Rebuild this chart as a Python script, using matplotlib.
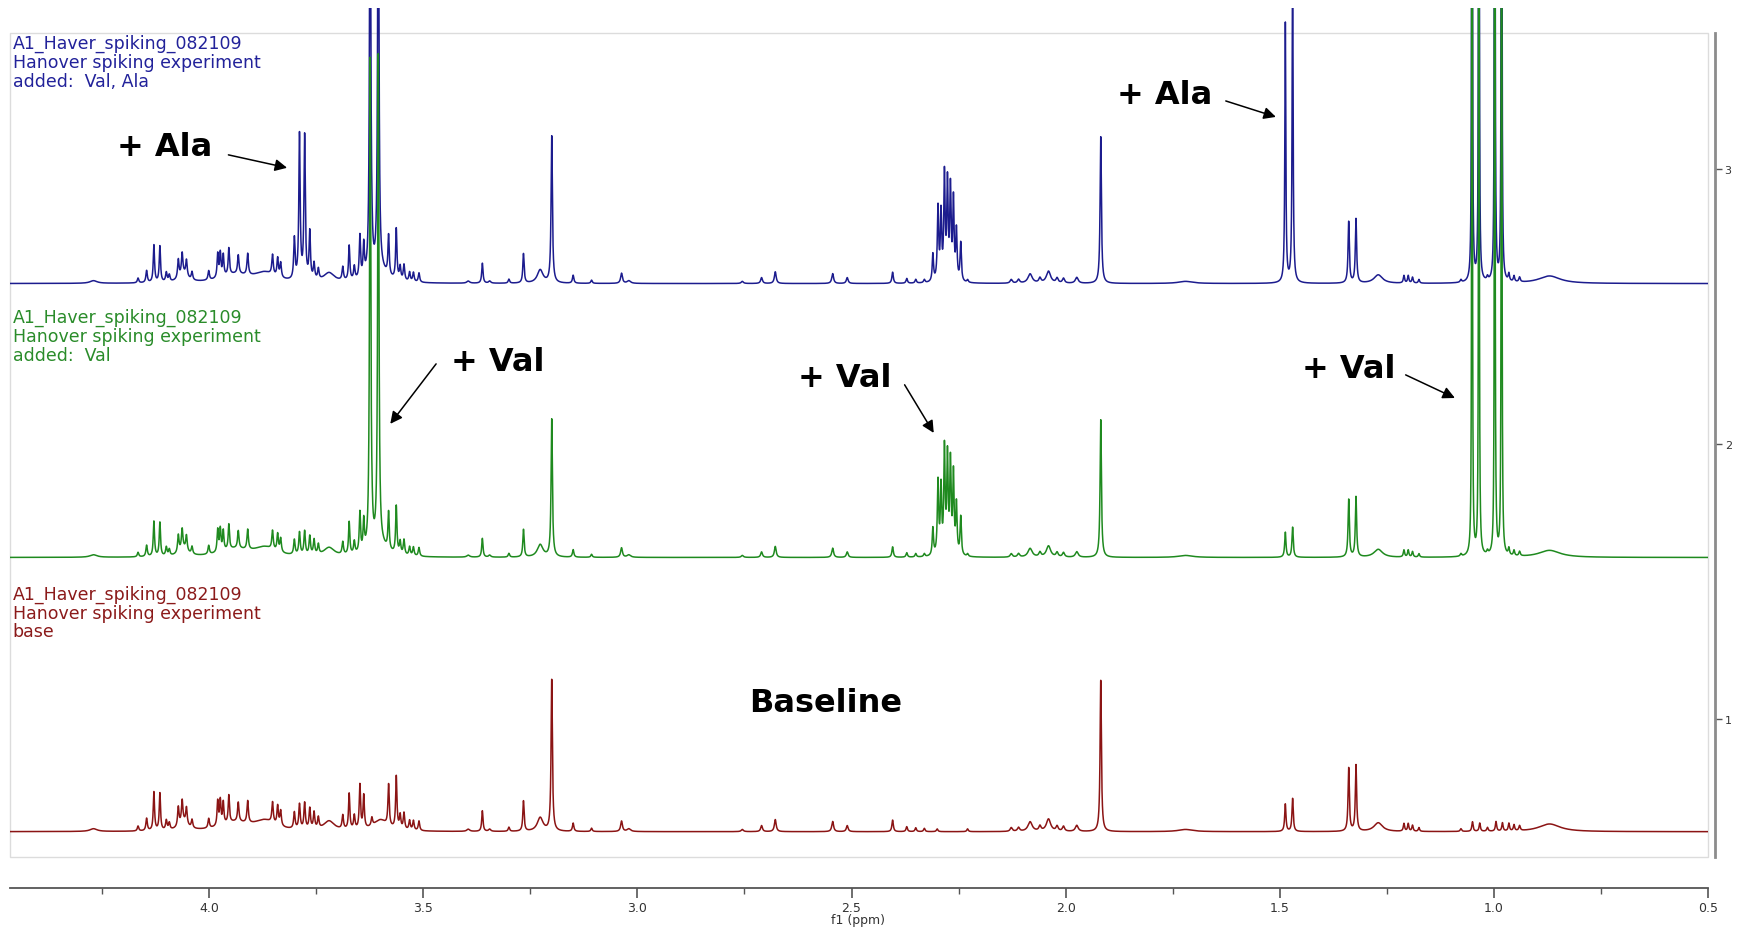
import numpy as np
import matplotlib
matplotlib.use('Agg')
import matplotlib.pyplot as plt
from matplotlib.patches import Rectangle

# Peak tables: centre (ppm), height (stack units), half width (ppm)
base_ppm = [4.270, 4.166, 4.146, 4.129, 4.115, 4.100, 4.093, 4.072, 4.063, 4.053, 4.040, 4.060,
            4.001, 3.980, 3.974, 3.967, 3.954, 3.932, 3.910, 3.940, 3.852, 3.840, 3.833, 3.870,
            3.801, 3.789, 3.777, 3.765, 3.755, 3.745, 3.720, 3.688, 3.673, 3.661, 3.648, 3.639,
            3.620, 3.581, 3.563, 3.554, 3.545, 3.532, 3.523, 3.510, 3.600, 3.395, 3.362, 3.345,
            3.300, 3.266, 3.227, 3.200, 3.150, 3.107, 3.037, 3.020, 2.755, 2.710, 2.678, 2.544,
            2.510, 2.404, 2.371, 2.350, 2.330, 2.300, 2.229, 2.127, 2.110, 2.083, 2.060, 2.040,
            2.020, 2.005, 1.974, 1.918, 1.720, 1.487, 1.470, 1.339, 1.322, 1.270, 1.210, 1.200,
            1.190, 1.175, 1.077, 1.050, 1.033, 1.015, 0.995, 0.980, 0.965, 0.953, 0.940, 0.870]
base_height = [0.010, 0.018, 0.045, 0.140, 0.135, 0.035, 0.025, 0.070, 0.080, 0.060, 0.030, 0.030,
               0.035, 0.090, 0.090, 0.080, 0.100, 0.070, 0.080, 0.030, 0.075, 0.070, 0.055, 0.035,
               0.060, 0.090, 0.095, 0.075, 0.060, 0.040, 0.035, 0.050, 0.130, 0.050, 0.160, 0.120,
               0.030, 0.150, 0.190, 0.050, 0.060, 0.035, 0.035, 0.035, 0.040, 0.008, 0.075, 0.008,
               0.015, 0.110, 0.050, 0.550, 0.030, 0.012, 0.038, 0.010, 0.008, 0.022, 0.044, 0.037,
               0.022, 0.042, 0.018, 0.014, 0.012, 0.010, 0.010, 0.014, 0.014, 0.035, 0.018, 0.045,
               0.018, 0.018, 0.022, 0.550, 0.008, 0.100, 0.120, 0.230, 0.240, 0.032, 0.028, 0.028,
               0.022, 0.014, 0.010, 0.035, 0.030, 0.014, 0.035, 0.030, 0.028, 0.022, 0.018, 0.028]
base_width = [0.010, 0.002, 0.002, 0.0018, 0.0018, 0.002, 0.002, 0.002, 0.002, 0.002, 0.002, 0.012,
              0.002, 0.0018, 0.0018, 0.0018, 0.0018, 0.002, 0.002, 0.040, 0.002, 0.002, 0.002, 0.030,
              0.002, 0.002, 0.002, 0.002, 0.002, 0.002, 0.015, 0.002, 0.0018, 0.002, 0.0018, 0.0018,
              0.002, 0.0018, 0.0018, 0.002, 0.002, 0.002, 0.002, 0.002, 0.020, 0.004, 0.0018, 0.003,
              0.002, 0.0018, 0.008, 0.0018, 0.002, 0.002, 0.0025, 0.005, 0.003, 0.0025, 0.0025, 0.0025,
              0.0025, 0.002, 0.002, 0.002, 0.002, 0.002, 0.002, 0.003, 0.003, 0.006, 0.003, 0.006,
              0.003, 0.003, 0.004, 0.0018, 0.020, 0.0018, 0.0018, 0.0018, 0.0018, 0.012, 0.0018, 0.0018,
              0.0018, 0.0018, 0.002, 0.0018, 0.0018, 0.002, 0.0018, 0.0018, 0.0018, 0.0018, 0.002, 0.030]

# spiked valine signals
val_ppm = [3.624, 3.605, 2.310, 2.298, 2.291, 2.283, 2.276, 2.269, 2.262, 2.255, 2.245,
           1.051, 1.035, 0.998, 0.982]
val_height = [1.78, 1.78, 0.10, 0.26, 0.24, 0.38, 0.35, 0.33, 0.29, 0.18, 0.14,
              6.0, 6.0, 6.0, 6.0]
val_width = [0.0017, 0.0017, 0.0018, 0.0018, 0.0018, 0.0018, 0.0018, 0.0018, 0.0018, 0.0018, 0.0018,
             0.0006, 0.0006, 0.0006, 0.0006]

# spiked alanine signals
ala_ppm = [3.801, 3.789, 3.777, 3.765, 1.487, 1.470]
ala_height = [0.09, 0.44, 0.43, 0.10, 0.85, 1.05]
ala_width = [0.0018, 0.0018, 0.0018, 0.0018, 0.0013, 0.0013]

spectrum_scale = [1.0, 0.91, 0.97]   # base, +Val, +Val/Ala

labels = [
    ['A1_Haver_spiking_082109', 'Hanover spiking experiment', 'base'],
    ['A1_Haver_spiking_082109', 'Hanover spiking experiment', 'added:  Val'],
    ['A1_Haver_spiking_082109', 'Hanover spiking experiment', 'added:  Val, Ala'],
]


def lorentz(x, centres, heights, widths):
    y = np.zeros_like(x)
    for c, h, w in zip(centres, heights, widths):
        y += h / (1.0 + ((x - c) / w) ** 2)
    return y


if __name__ == '__main__':
    ppm = np.linspace(4.47, 0.5, 24000)
    base = lorentz(ppm, base_ppm, base_height, base_width)
    val = lorentz(ppm, val_ppm, val_height, val_width)
    ala = lorentz(ppm, ala_ppm, ala_height, ala_width)

    spectra = [
        spectrum_scale[0] * base,
        spectrum_scale[1] * base + val,
        spectrum_scale[2] * base + val + ala,
    ]
    offsets = [0.59, 1.587, 2.583]
    colors = ['#8b1414', '#1f8a1f', '#1c1c8e']
    text_colors = ['#8b1a1a', '#2a8c2a', '#22229a']
    zorders = [4, 3, 2]

    fig = plt.figure(figsize=(17.46, 9.28), dpi=100)
    ax = fig.add_axes([10 / 1746, 1 - 858 / 928, 1698 / 1746, 849 / 928])
    ax.set_xlim(4.465, 0.5)
    ax.set_ylim(0.498, 3.585)

    for spec, off, col, z in zip(spectra, offsets, colors, zorders):
        ax.plot(ppm, spec + off, color=col, lw=1.1, zorder=z)

    # light frame around the stacked spectra
    box = Rectangle((0, 0.498), 1, 3.495 - 0.498, transform=ax.get_yaxis_transform(),
                    fill=False, edgecolor='#dcdcdc', lw=1.0, zorder=1, clip_on=False)
    ax.add_patch(box)

    # spectrum titles
    label_y = [[1.456, 1.387, 1.318], [2.463, 2.394, 2.325], [3.458, 3.389, 3.320]]
    for lines, ys, col in zip(labels, label_y, text_colors):
        for line, yy in zip(lines, ys):
            ax.text(4.459, yy, line, color=col, fontsize=12.5, va='center', ha='left',
                    family='DejaVu Sans')

    # annotations
    bold = dict(fontsize=23, fontweight='bold', family='DejaVu Sans', color='black',
                ha='center', va='center')
    ax.text(4.105, 3.08, '+ Ala', **bold)
    ax.text(1.769, 3.269, '+ Ala', **bold)
    ax.text(3.326, 2.298, '+ Val', **bold)
    ax.text(2.516, 2.24, '+ Val', **bold)
    ax.text(1.34, 2.276, '+ Val', **bold)
    ax.text(2.561, 1.058, 'Baseline', **bold)

    arrows = [((3.955, 3.051), (3.818, 3.004)),
              ((1.626, 3.247), (1.509, 3.189)),
              ((3.470, 2.291), (3.577, 2.073)),
              ((2.376, 2.215), (2.308, 2.040)),
              ((1.206, 2.251), (1.091, 2.167))]
    for start, end in arrows:
        ax.annotate('', xy=end, xytext=start,
                    arrowprops=dict(arrowstyle='-|>', color='black', lw=1.1,
                                    mutation_scale=18, shrinkA=0, shrinkB=0))

    # axes styling
    for side in ['top', 'left']:
        ax.spines[side].set_visible(False)
    ax.spines['bottom'].set_position(('outward', 22))
    ax.spines['bottom'].set_color('#555555')
    ax.spines['bottom'].set_linewidth(1.3)
    ax.spines['right'].set_position(('outward', 5))
    ax.spines['right'].set_bounds(0.498, 3.495)
    ax.spines['right'].set_color('#8c8c8c')
    ax.spines['right'].set_linewidth(2.0)

    ax.set_xticks([4.0, 3.5, 3.0, 2.5, 2.0, 1.5, 1.0, 0.5])
    ax.set_xticklabels(['4.0', '3.5', '3.0', '2.5', '2.0', '1.5', '1.0', '0.5'])
    ax.set_xticks([4.25, 3.75, 3.25, 2.75, 2.25, 1.75, 1.25, 0.75], minor=True)
    ax.tick_params(axis='x', which='major', length=7, width=1.2, color='#555555',
                   labelsize=9, labelcolor='#333333', pad=3)
    ax.tick_params(axis='x', which='minor', length=4, width=1.0, color='#555555')

    ax.yaxis.tick_right()
    ax.set_yticks([1, 2, 3])
    ax.tick_params(axis='y', length=5, width=1.0, color='#555555', labelsize=8,
                   labelcolor='#333333', pad=2)

    fig.text(858 / 1746, 1 - 927 / 928, 'f1 (ppm)', fontsize=9, color='#333333',
             ha='center', va='bottom')

    fig.savefig('out.png', dpi=100)
